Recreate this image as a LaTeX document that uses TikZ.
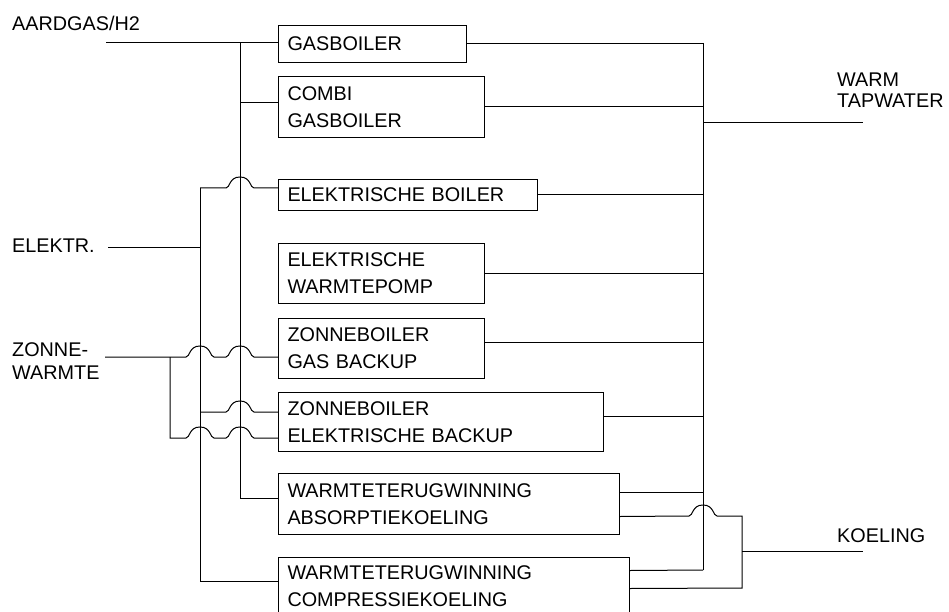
\documentclass[tikz,border=0pt]{standalone}
\usepackage{fontspec}
\setmainfont{Liberation Sans}
\tikzset{
  ln/.style={line width=1pt, black},
  unit/.style 2 args={draw, ln, anchor=north west, inner xsep=9pt, inner ysep=0pt,
    text width=#1, minimum height=#2, align=left,
    font=\fontsize{19.8pt}{27pt}\selectfont},
  lbl/.style={inner sep=0pt, anchor=north west, align=left},
  hop/.style 2 args={insert path={-- (#1-14,#2) .. controls (#1-10,#2) and (#1-11,#2-11) .. (#1,#2-11)
     .. controls (#1+11,#2-11) and (#1+10,#2) .. (#1+14,#2)}}
}
\begin{document}
\begin{tikzpicture}[x=1pt,y=-1pt]
\useasboundingbox (0,0) rectangle (949,612);
\clip (0,0) rectangle (949,612);
\fill[white] (0,0) rectangle (949,612);

% boxes
\node[unit={170pt}{37pt}] (gasb) at (278,25) {GASBOILER};
\node[unit={188pt}{61pt}] (combi) at (278,76) {COMBI\\GASBOILER};
\node[unit={241pt}{31pt}] (eboiler) at (278,179) {ELEKTRISCHE BOILER};
\node[unit={188pt}{60pt}] (wp) at (278,243) {ELEKTRISCHE\\WARMTEPOMP};
\node[unit={188pt}{60pt}] (zgb) at (278,318) {ZONNEBOILER\\GAS BACKUP};
\node[unit={307pt}{59pt}] (zeb) at (278,392) {ZONNEBOILER\\ELEKTRISCHE BACKUP};
\node[unit={323pt}{61pt}] (wabs) at (278,473) {WARMTETERUGWINNING\\ABSORPTIEKOELING};
\node[unit={333pt}{58pt}] (wcomp) at (278,557) {WARMTETERUGWINNING\\COMPRESSIEKOELING};

% labels
\begin{scope}[font=\fontsize{19.8pt}{23.5pt}\selectfont]
\node[lbl] (lgas) at (12,16) {AARDGAS/H2};
\node[lbl] (lel) at (12,239) {ELEKTR.};
\node[lbl] (lzo) at (12,342) {ZONNE-\\WARMTE};
\end{scope}
\node[lbl, font=\fontsize{19.8pt}{20.5pt}\selectfont] (ltw) at (837,73) {WARM\\TAPWATER};
\node[lbl, font=\fontsize{19.8pt}{23.5pt}\selectfont] (lko) at (837,528) {KOELING};

% junction coordinates
\coordinate (gasIn) at (106,43);
\coordinate (gasTop) at (240,43);
\coordinate (gasCombi) at (240,103);
\coordinate (gasBot) at (240,498);
\coordinate (elIn) at (108,247);
\coordinate (elBus) at (200,247);
\coordinate (elTop) at (200,188);
\coordinate (elZeb) at (200,412);
\coordinate (elBot) at (200,581);
\coordinate (zoIn) at (105,357);
\coordinate (zoTop) at (170,357);
\coordinate (zoBot) at (170,438);
\coordinate (twTop) at (703,43);
\coordinate (twBot) at (703,570);
\coordinate (twOut) at (703,123);
\coordinate (twEnd) at (863,123);
\coordinate (koTop) at (742,516);
\coordinate (koBot) at (742,588);
\coordinate (koOut) at (742,551);
\coordinate (koEnd) at (863,551);

% gas
\draw[ln] (gasIn) -- (gasb.west |- gasIn);
\draw[ln] (gasTop) -- (gasBot) -- (wabs.west |- gasBot);
\draw[ln] (gasCombi) -- (combi.west |- gasCombi);

% electricity
\draw[ln] (elIn) -- (elBus);
\draw[ln] (elTop) -- (elBot) -- (wcomp.west |- elBot);
\draw[ln] (elTop) [hop={240}{188}] -- (eboiler.west |- elTop);
\draw[ln] (elZeb) [hop={240}{412}] -- (zeb.west |- elZeb);

% solar heat
\draw[ln] (zoIn) [hop={200}{357}] [hop={240}{357}] -- (zgb.west |- zoIn);
\draw[ln] (zoTop) -- (zoBot) [hop={200}{438}] [hop={240}{438}] -- (zeb.west |- zoBot);

% warm tapwater
\draw[ln] (twTop) -- (twBot);
\draw[ln] (twOut) -- (twEnd);
\draw[ln] (gasb.east) -- (gasb.east -| twTop);
\draw[ln] (combi.east) -- (combi.east -| twTop);
\draw[ln] (eboiler.east) -- (eboiler.east -| twTop);
\draw[ln] (wp.east) -- (wp.east -| twTop);
\draw[ln] ([yshift=6pt]zgb.east) -- ([yshift=6pt]zgb.east -| twTop);
\draw[ln] ([yshift=5.5pt]zeb.east) -- ([yshift=5.5pt]zeb.east -| twTop);
\draw[ln] ([yshift=11.5pt]wabs.east) -- ([yshift=11.5pt]wabs.east -| twTop);
\draw[ln] ([yshift=16pt]wcomp.east) -- (twBot);

% cooling
\draw[ln] ([yshift=-12.5pt]wabs.east) [hop={703}{516}] -- (koTop) -- (koBot) -- ([yshift=-2pt]wcomp.east);
\draw[ln] (koOut) -- (koEnd);
\end{tikzpicture}
\end{document}
